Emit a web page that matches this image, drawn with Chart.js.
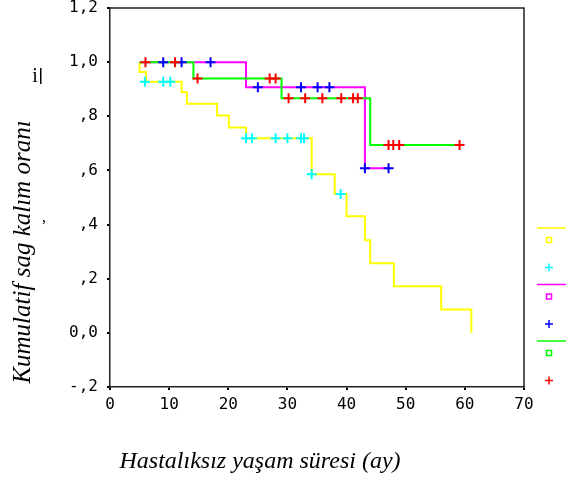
<!DOCTYPE html>
<html>
<head>
<meta charset="utf-8">
<script src="https://cdn.jsdelivr.net/npm/chart.js@4"></script>
<style>
  body { margin: 0; background: #fff; }
</style>
</head>
<body>
<canvas id="kmChart" width="566" height="480"></canvas>
<script>
// tick labels as SPSS prints them
var yTickLabels = ['-,2', '0,0', ',2', ',4', ',6', ',8', '1,0', '1,2'];

// group 1 (yellow line, cyan censors)
var times1 = [5, 5, 6.1, 12.1, 13, 18.1, 20.1, 23, 34.1, 38, 40, 43.1, 44, 48, 56, 61.1];
var surv1 = [1, 0.964, 0.928, 0.889, 0.846, 0.803, 0.759, 0.719, 0.586, 0.513, 0.431, 0.342, 0.257, 0.172, 0.086, 0];
var cens1T = [5.9, 9, 10.2, 23, 24, 28, 30, 32.3, 32.8, 34.1, 39];
var cens1S = [0.928, 0.928, 0.928, 0.719, 0.719, 0.719, 0.719, 0.719, 0.719, 0.586, 0.513];

// group 2 (magenta line, blue censors)
var times2 = [5, 23, 43.1, 47.1];
var surv2 = [1, 0.907, 0.608, 0.608];
var cens2T = [9, 12.1, 17, 25, 32.3, 35.1, 37.1, 43.1, 47.1];
var cens2S = [1, 1, 1, 0.907, 0.907, 0.907, 0.907, 0.608, 0.608];

// group 3 (green line, red censors)
var times3 = [5, 14.1, 29, 44, 59.1];
var surv3 = [1, 0.94, 0.867, 0.694, 0.694];
var cens3T = [6, 11, 14.8, 27, 28, 30.2, 33, 35.9, 39.1, 41.1, 41.9, 47.1, 47.9, 48.9, 59.1];
var cens3S = [1, 1, 0.94, 0.94, 0.94, 0.867, 0.867, 0.867, 0.867, 0.867, 0.867, 0.694, 0.694, 0.694, 0.694];

var lineColors = ['#ffff00', '#ff00ff', '#00ff00'];
var censColors = ['#00ffff', '#0000ff', '#ff0000'];

function pts(xs, ys) {
    return xs.map(function(x, i) { return {x: x, y: ys[i]}; });
}

function stepSet(xs, ys, color, order) {
    return {
        type: 'line', data: pts(xs, ys), borderColor: color, borderWidth: 2,
        stepped: 'before', pointRadius: 0, fill: false, order: order
    };
}

function censSet(xs, ys, color) {
    return {
        type: 'scatter', data: pts(xs, ys), borderColor: color, backgroundColor: color,
        pointStyle: 'cross', pointRadius: 5, borderWidth: 2, showLine: false, order: 0
    };
}

var extras = {
    id: 'extras',
    afterDraw: function(chart) {
        var c = chart.ctx, a = chart.chartArea;
        c.save();
        // box frame
        c.strokeStyle = '#222';
        c.lineWidth = 1.5;
        c.beginPath();
        c.moveTo(a.left, a.top); c.lineTo(a.right, a.top); c.lineTo(a.right, a.bottom);
        c.stroke();

        // legend without labels (cut off in the original)
        var lx = a.right + 13, y0 = 228;
        for (var g = 0; g < 3; g++) {
            var y = y0 + g * 56.5;
            c.strokeStyle = lineColors[g];
            c.lineWidth = 1.5;
            c.beginPath(); c.moveTo(lx, y); c.lineTo(566, y); c.stroke();
            c.strokeRect(lx + 9.5, y + 9.5, 5, 5);
            c.strokeStyle = censColors[g];
            c.beginPath();
            c.moveTo(lx + 8, y + 39.5); c.lineTo(lx + 16, y + 39.5);
            c.moveTo(lx + 12, y + 35.5); c.lineTo(lx + 12, y + 43.5);
            c.stroke();
        }

        // axis titles
        c.fillStyle = '#000';
        c.font = 'italic 24px "Liberation Serif"';
        c.textAlign = 'center';
        c.textBaseline = 'middle';
        c.fillText('Hastalıksız yaşam süresi (ay)', 260, 462);
        c.font = 'italic 25px "Liberation Serif"';
        c.translate(23, 252);
        c.rotate(-Math.PI / 2);
        c.fillText('Kumulatif sag kalım oranı', 0, 0);
        c.restore();

        // stray accent marks from the original render
        c.save();
        c.fillStyle = '#000';
        c.font = '20px "Liberation Serif"';
        c.textAlign = 'center';
        c.textBaseline = 'middle';
        c.fillText('i', 35, 77);
        c.fillRect(40, 68, 1.5, 16);
        c.font = '16px "Liberation Serif"';
        c.fillText(',', 44, 218);
        c.restore();
    }
};

var ctx = document.getElementById('kmChart').getContext('2d');
var tickFont = {family: 'DejaVu Sans Mono', size: 16};

new Chart(ctx, {
    type: 'scatter',
    data: {
        datasets: [
            censSet(cens3T, cens3S, censColors[2]),
            censSet(cens2T, cens2S, censColors[1]),
            censSet(cens1T, cens1S, censColors[0]),
            stepSet(times3, surv3, lineColors[2], 1),
            stepSet(times2, surv2, lineColors[1], 2),
            stepSet(times1, surv1, lineColors[0], 3)
        ]
    },
    options: {
        responsive: false,
        animation: false,
        layout: {padding: {left: 0, top: 8, right: 42, bottom: 63}},
        plugins: {legend: {display: false}, tooltip: {enabled: false}},
        scales: {
            x: {
                type: 'linear', min: 0, max: 70,
                ticks: {stepSize: 10, color: '#000', font: tickFont, padding: 5},
                grid: {drawOnChartArea: false, tickLength: 3, color: '#000', lineWidth: 2},
                border: {display: true, color: '#222', width: 1.5},
                afterFit: function(s) { s.height = 30; }
            },
            y: {
                min: -0.2, max: 1.2,
                ticks: {
                    stepSize: 0.2, color: '#000', font: tickFont, padding: 9,
                    callback: function(v, i) { return yTickLabels[i]; }
                },
                grid: {drawOnChartArea: false, tickLength: 3, color: '#000', lineWidth: 2},
                border: {display: true, color: '#222', width: 1.5},
                afterFit: function(s) { s.width = 110; s.paddingTop = 0; s.paddingBottom = 0; }
            }
        }
    },
    plugins: [extras]
});
</script>
</body>
</html>
